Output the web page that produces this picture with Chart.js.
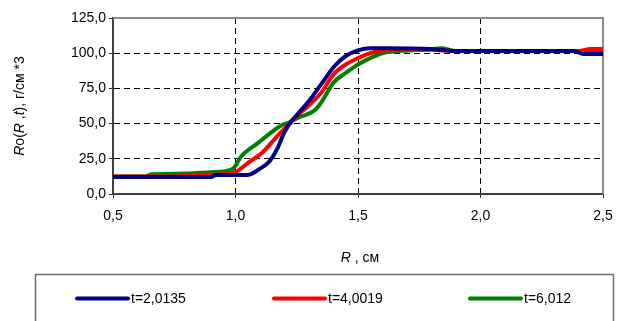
<!DOCTYPE html>
<html>
<head>
<meta charset="utf-8">
<script src="https://cdn.jsdelivr.net/npm/chart.js@4/dist/chart.umd.min.js"></script>
<style>
  html, body { margin: 0; padding: 0; background: #fff; }
  #wrap { position: relative; width: 629px; height: 321px; overflow: hidden; }
</style>
</head>
<body>
<div id="wrap"><canvas id="c" width="629" height="321"></canvas></div>
<script>
// Density profiles Ro(R,t) at three moments of time
const seriesLabels = ['t=2,0135', 't=4,0019', 't=6,012'];
const seriesColors = ['#000080', '#ff0000', '#008000'];

const rBlue = [0.5, 0.9, 0.92, 1.05, 1.1, 1.14, 1.17, 1.2, 1.23, 1.26, 1.3, 1.35, 1.4, 1.45, 1.5, 1.55, 1.6, 1.8, 1.9, 2.38, 2.42, 2.5];
const roBlue = [12, 12, 13.5, 13.5, 18, 23.5, 32, 44, 52, 58, 66, 78, 90, 98, 102, 103.5, 103.5, 103, 101.5, 101.5, 99.5, 99.5];

const rRed = [0.5, 0.76, 0.8, 0.95, 1.0, 1.05, 1.11, 1.17, 1.22, 1.26, 1.3, 1.35, 1.4, 1.45, 1.5, 1.55, 1.6, 1.7, 1.8, 1.9, 2.4, 2.45, 2.5];
const roRed = [12.5, 12.5, 13.5, 14, 15.5, 22, 29.5, 41, 50, 57, 63, 72, 85, 92, 96.5, 100, 102, 102.5, 102.5, 101.5, 101.5, 103, 103];

const rGreen = [0.5, 0.63, 0.66, 0.8, 0.9, 0.95, 0.99, 1.0, 1.02, 1.09, 1.18, 1.22, 1.26, 1.32, 1.35, 1.4, 1.45, 1.5, 1.55, 1.6, 1.71, 1.8, 1.84, 1.9, 2.5];
const roGreen = [12.5, 12.5, 14, 14.5, 15.5, 16, 18, 20, 26, 36, 48, 51, 54.5, 59, 65, 79, 86, 92, 96.5, 100, 102, 103, 103.5, 101.5, 101.5];

const xTicks = [0.5, 1.0, 1.5, 2.0, 2.5];
const yTicks = [0, 25, 50, 75, 100, 125];

const FONT = '"Liberation Sans", Arial, sans-serif';

function pairs(xs, ys) { return xs.map((x, i) => ({ x: x, y: ys[i] })); }
function commaFmt(v) { return v.toFixed(1).replace('.', ','); }

// Plot frame, axis titles with italic symbols and the boxed legend
const decorPlugin = {
  id: 'decor',
  beforeDatasetsDraw(chart) {
    const { ctx, chartArea: a } = chart;
    ctx.save();
    ctx.setLineDash([]);
    ctx.strokeStyle = '#8c8c8c';
    ctx.lineWidth = 2;
    ctx.beginPath();
    ctx.moveTo(a.left, a.top);
    ctx.lineTo(a.right, a.top);
    ctx.lineTo(a.right, a.bottom);
    ctx.stroke();
    ctx.restore();
  },
  afterDraw(chart) {
    const { ctx } = chart;
    ctx.save();
    ctx.setLineDash([]);
    ctx.fillStyle = '#000';
    ctx.textBaseline = 'middle';

    // draws a run of text pieces, each with its own style, centred on (cx, cy)
    function runs(parts, cx, cy) {
      let w = 0;
      parts.forEach(p => { ctx.font = p[1] + ' 14px ' + FONT; w += ctx.measureText(p[0]).width; });
      let x = cx - w / 2;
      ctx.textAlign = 'left';
      parts.forEach(p => { ctx.font = p[1] + ' 14px ' + FONT; ctx.fillText(p[0], x, cy); x += ctx.measureText(p[0]).width; });
    }

    // x axis title
    runs([['R', 'italic'], [' , см', 'normal']], 360, 258);

    // y axis title (rotated)
    ctx.save();
    ctx.translate(20, 106);
    ctx.rotate(-Math.PI / 2);
    runs([['R', 'italic'], ['o(', 'normal'], ['R', 'italic'], [' ,', 'normal'], ['t', 'italic'], ['), г/см *3', 'normal']], 0, 0);
    ctx.restore();

    // legend box
    ctx.strokeStyle = '#6e6e6e';
    ctx.lineWidth = 1.5;
    ctx.strokeRect(35.5, 274.5, 578, 60);
    const itemX = [75, 272, 468];
    ctx.font = '14px ' + FONT;
    ctx.textAlign = 'left';
    chart.data.datasets.forEach((ds, i) => {
      const x0 = itemX[i];
      ctx.strokeStyle = ds.borderColor;
      ctx.lineWidth = 4;
      ctx.lineCap = 'round';
      ctx.beginPath();
      ctx.moveTo(x0 + 2, 298.5);
      ctx.lineTo(x0 + 53, 298.5);
      ctx.stroke();
      ctx.fillStyle = '#000';
      ctx.fillText(ds.label, x0 + 56, 299);
    });
    ctx.restore();
  }
};

const datasets = [
  { label: seriesLabels[0], data: pairs(rBlue, roBlue), borderColor: seriesColors[0] },
  { label: seriesLabels[1], data: pairs(rRed, roRed), borderColor: seriesColors[1] },
  { label: seriesLabels[2], data: pairs(rGreen, roGreen), borderColor: seriesColors[2] }
].map(d => Object.assign(d, {
  borderWidth: 4,
  pointRadius: 0,
  fill: false,
  cubicInterpolationMode: 'monotone',
  borderCapStyle: 'round',
  borderJoinStyle: 'round'
}));

function gridOpts(edgeA, edgeB) {
  return {
    color: ctx => (ctx.tick && (ctx.tick.value === edgeA || ctx.tick.value === edgeB)) ? 'rgba(0,0,0,0)' : '#000',
    lineWidth: 1,
    tickColor: '#333',
    tickBorderDash: [],
    tickLength: 4,
    drawTicks: true
  };
}

new Chart(document.getElementById('c'), {
  type: 'line',
  data: { datasets: datasets },
  options: {
    responsive: false,
    animation: false,
    devicePixelRatio: 1,
    layout: { padding: { top: 18, right: 26, left: 0, bottom: 0 } },
    plugins: { legend: { display: false }, tooltip: { enabled: false } },
    scales: {
      x: {
        type: 'linear',
        min: 0.5, max: 2.5,
        afterFit(s) { s.height = 127; },
        afterBuildTicks(s) { s.ticks = xTicks.map(v => ({ value: v })); },
        ticks: { padding: 10, color: '#000', font: { family: FONT, size: 14 }, callback: v => commaFmt(v), maxRotation: 0 },
        grid: gridOpts(0.5, 2.5),
        border: { display: true, color: '#404040', width: 2, dash: [6, 4] }
      },
      y: {
        type: 'linear',
        min: 0, max: 125,
        afterFit(s) { s.width = 113; },
        afterBuildTicks(s) { s.ticks = yTicks.map(v => ({ value: v })); },
        ticks: { padding: 3, color: '#000', font: { family: FONT, size: 14 }, callback: v => commaFmt(v) },
        grid: gridOpts(0, 125),
        border: { display: true, color: '#404040', width: 2, dash: [6, 4] }
      }
    }
  },
  plugins: [decorPlugin]
});
</script>
</body>
</html>
